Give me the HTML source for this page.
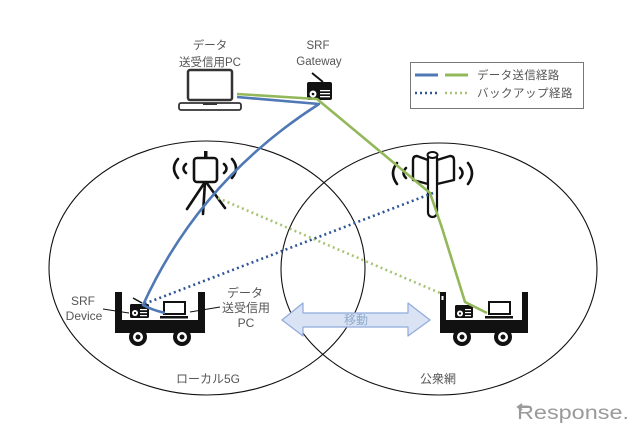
<!DOCTYPE html>
<html><head><meta charset="utf-8"><style>
html,body{margin:0;padding:0;background:#fff;}
svg{display:block;}
text{font-family:"Liberation Sans","Noto Sans CJK JP",sans-serif;fill:#555;}
</style></head><body>
<svg width="640" height="434" viewBox="0 0 640 434" xmlns="http://www.w3.org/2000/svg">
<rect width="640" height="434" fill="#fff"/>

<!-- ellipses -->
<ellipse cx="207" cy="268" rx="158" ry="127" fill="none" stroke="#111" stroke-width="1.1"/>
<ellipse cx="439" cy="269" rx="158" ry="126" fill="none" stroke="#111" stroke-width="1.1"/>

<!-- top PC -->
<text x="210" y="49" font-size="11.5" text-anchor="middle">データ</text>
<text x="210" y="66" font-size="11.5" text-anchor="middle">送受信用PC</text>
<rect x="188" y="70" width="44" height="30" rx="2" fill="#fff" stroke="#333" stroke-width="2.5"/>
<rect x="179" y="103" width="62" height="7" rx="2" fill="#fff" stroke="#333" stroke-width="1.8"/>
<rect x="203" y="103" width="14" height="2" fill="#333"/>

<!-- gateway -->
<text x="318" y="49" font-size="11.5" text-anchor="middle">SRF</text>
<text x="319" y="65" font-size="11.5" text-anchor="middle">Gateway</text>
<line x1="312" y1="73" x2="323" y2="82" stroke="#111" stroke-width="1.8"/>
<rect x="307" y="82" width="25" height="18" rx="2" fill="#111"/>
<circle cx="313" cy="94" r="3.5" fill="#fff"/>
<circle cx="313" cy="94" r="1.3" fill="#111"/>
<rect x="320" y="90" width="10" height="1.3" fill="#fff"/>
<rect x="320" y="93" width="10" height="1.3" fill="#fff"/>
<rect x="320" y="96" width="10" height="1.3" fill="#fff"/>

<!-- legend -->
<rect x="410.5" y="62.5" width="173" height="46" fill="#fff" stroke="#777" stroke-width="1"/>
<line x1="415" y1="75" x2="438" y2="75" stroke="#4f78b5" stroke-width="3"/>
<line x1="445" y1="75" x2="468" y2="75" stroke="#93b85a" stroke-width="3"/>
<line x1="415" y1="93" x2="438" y2="93" stroke="#2f5597" stroke-width="2.5" stroke-dasharray="2 3"/>
<line x1="445" y1="93" x2="468" y2="93" stroke="#a9c476" stroke-width="2.5" stroke-dasharray="2 3"/>
<text x="477" y="79" font-size="11.5" letter-spacing="0.3">データ送信経路</text>
<text x="477" y="97" font-size="11.5" letter-spacing="0.5">バックアップ経路</text>

<!-- left tower (tripod) -->
<g stroke="#111" stroke-width="2.6" fill="none" stroke-linecap="round">
<path d="M178,159 Q170,168 178,178"/>
<path d="M186,164 Q181,168.5 186,173"/>
<path d="M232,159 Q240,168 232,178"/>
<path d="M224,164 Q229,168.5 224,173"/>
<line x1="205" y1="182" x2="187" y2="209"/>
<line x1="206" y1="182" x2="225" y2="208"/>
<line x1="205" y1="182" x2="203" y2="214"/>
</g>
<rect x="204" y="151" width="3.5" height="7" fill="#111"/>
<rect x="194" y="158" width="23" height="24" rx="3" fill="#fff" stroke="#111" stroke-width="2.6"/>

<!-- right tower -->
<g stroke="#111" stroke-width="2.6" fill="none" stroke-linecap="round">
<path d="M397,163 Q389,173 397,184"/>
<path d="M406,168 Q401,173 406,178"/>
<path d="M468,163 Q476,173 468,184"/>
<path d="M460,168 Q465,173 460,178"/>
</g>
<path d="M428,160 L417,156 Q413,156 413,160 L413,180 L428,184 Z" fill="#fff" stroke="#111" stroke-width="2.4" stroke-linejoin="round"/>
<path d="M437,160 L450,156 Q454,156 454,160 L454,180 L437,184 Z" fill="#fff" stroke="#111" stroke-width="2.4" stroke-linejoin="round"/>
<rect x="428" y="154" width="9" height="63" rx="4.5" fill="#fff" stroke="#111" stroke-width="2.2"/>
<ellipse cx="432.5" cy="155" rx="5" ry="3" fill="#fff" stroke="#111" stroke-width="2"/>

<!-- carts -->
<g id="cartL">
<rect x="115" y="292" width="7" height="28" fill="#111"/>
<rect x="198" y="292" width="7" height="28" fill="#111"/>
<rect x="115" y="320" width="90" height="13" fill="#111"/>
<circle cx="138" cy="337" r="9" fill="#111"/>
<circle cx="138" cy="337" r="5" fill="#fff"/>
<circle cx="138" cy="337" r="2.5" fill="#111"/>
<circle cx="182" cy="337" r="9" fill="#111"/>
<circle cx="182" cy="337" r="5" fill="#fff"/>
<circle cx="182" cy="337" r="2.5" fill="#111"/>
<line x1="133" y1="298" x2="142" y2="303" stroke="#111" stroke-width="1.5"/>
<rect x="130" y="304" width="19" height="14" rx="1.5" fill="#111"/>
<circle cx="135" cy="313" r="3" fill="#fff"/>
<circle cx="135" cy="313" r="1.1" fill="#111"/>
<rect x="140" y="309" width="7" height="1.2" fill="#fff"/>
<rect x="140" y="312" width="7" height="1.2" fill="#fff"/>
<rect x="140" y="315" width="7" height="1.2" fill="#fff"/>
<rect x="164" y="302" width="21" height="12" fill="#fff" stroke="#111" stroke-width="2"/>
<rect x="160" y="316" width="28" height="2.5" fill="#111"/>
</g>
<g>
<rect x="440" y="292" width="6" height="28" fill="#111"/>
<rect x="441.5" y="296" width="2" height="4" fill="#fff"/>
<rect x="522" y="292" width="6" height="28" fill="#111"/>
<rect x="440" y="320" width="88" height="13" fill="#111"/>
<circle cx="462" cy="337" r="9" fill="#111"/>
<circle cx="462" cy="337" r="5" fill="#fff"/>
<circle cx="462" cy="337" r="2.5" fill="#111"/>
<circle cx="503" cy="337" r="9" fill="#111"/>
<circle cx="503" cy="337" r="5" fill="#fff"/>
<circle cx="503" cy="337" r="2.5" fill="#111"/>
<rect x="455" y="305" width="18" height="13" rx="1.5" fill="#111"/>
<circle cx="460" cy="313.5" r="3" fill="#fff"/>
<circle cx="460" cy="313.5" r="1.1" fill="#111"/>
<rect x="465" y="309" width="6" height="1.2" fill="#fff"/>
<rect x="465" y="312" width="6" height="1.2" fill="#fff"/>
<rect x="465" y="315" width="6" height="1.2" fill="#fff"/>
<rect x="489" y="302" width="21" height="12" fill="#fff" stroke="#111" stroke-width="2"/>
<rect x="485" y="316" width="28" height="2.5" fill="#111"/>
</g>

<!-- cart labels -->
<text x="83" y="305" font-size="12" text-anchor="middle">SRF</text>
<text x="84" y="320" font-size="12" text-anchor="middle">Device</text>
<line x1="103" y1="309" x2="129" y2="313" stroke="#111" stroke-width="1"/>
<text x="245" y="297" font-size="12" text-anchor="middle">データ</text>
<text x="246" y="312" font-size="12" text-anchor="middle">送受信用</text>
<text x="246" y="327" font-size="12" text-anchor="middle">PC</text>
<line x1="190" y1="312" x2="220" y2="307" stroke="#111" stroke-width="1"/>

<!-- dotted backup lines -->
<line x1="218" y1="198" x2="440" y2="293" stroke="#a9c476" stroke-width="2.6" stroke-dasharray="2 3.2"/>
<line x1="433" y1="193" x2="144" y2="304" stroke="#2f5597" stroke-width="2.6" stroke-dasharray="2 3.2"/>

<!-- solid data lines -->
<polyline points="237,94 317,99 430,193 442,228 465,302 487,313" fill="none" stroke="#93b85a" stroke-width="2.6" stroke-linejoin="round"/>
<path d="M237,97 L319,104 Q200,180 143,305 Q152,310 165,313" fill="none" stroke="#4f78b5" stroke-width="2.6" stroke-linejoin="round"/>

<!-- move arrow -->
<polygon points="282,320 303,303 303,313 408,313 408,303 430,320 408,336 408,327 303,327 303,336" fill="#dae3f3" stroke="#8faadc" stroke-width="1.2" stroke-linejoin="round"/>
<text x="356" y="324" font-size="12" text-anchor="middle" style="fill:#8eaacc">移動</text>

<!-- zone labels -->
<text x="208" y="383" font-size="12" text-anchor="middle">ローカル5G</text>
<text x="438" y="383" font-size="12" text-anchor="middle">公衆網</text>

<!-- logo -->
<path d="M522,404 L518,407 L522,410 M518,407 L531,407" fill="none" stroke="#9a9a9a" stroke-width="2"/>
<text x="517" y="419" font-size="19" textLength="112" lengthAdjust="spacingAndGlyphs" style="fill:#9a9a9a">Response.</text>
</svg>
</body></html>
